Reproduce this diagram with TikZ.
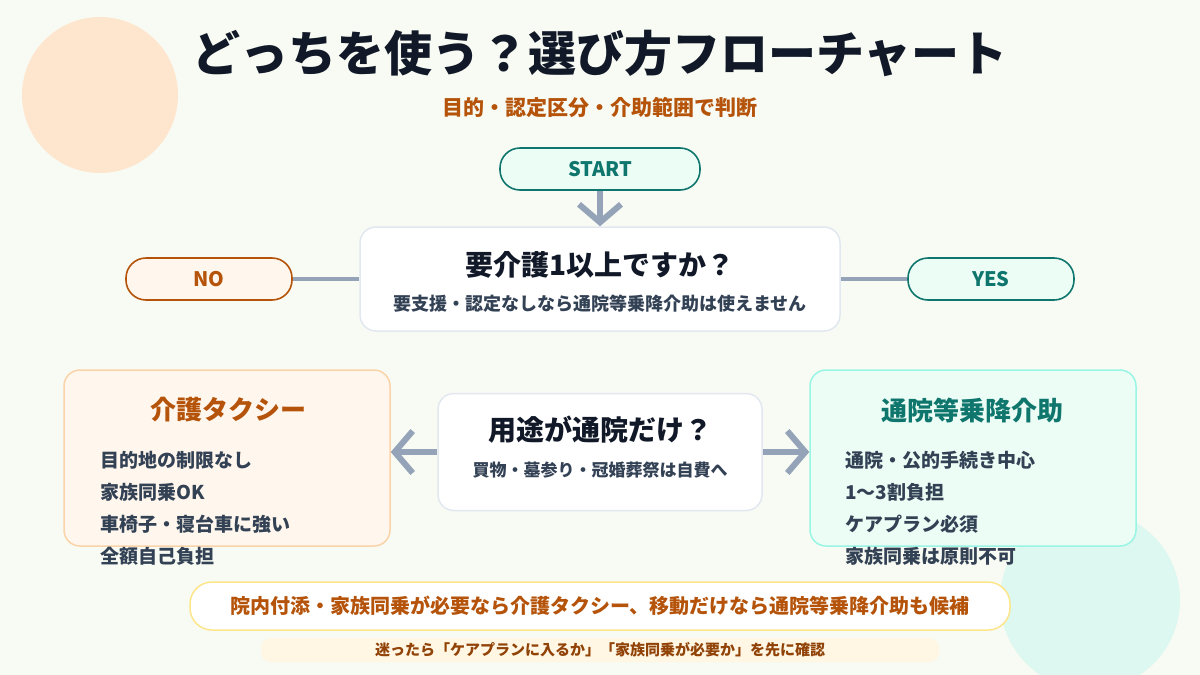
\documentclass[tikz,border=0pt]{standalone}
\usepackage{fontspec}
\setmainfont{Noto Sans CJK JP}
\usetikzlibrary{arrows.meta}
\definecolor{bg}{HTML}{F8FBF3}
\definecolor{peach}{HTML}{FDE6CD}
\definecolor{mint}{HTML}{DDF8F0}
\definecolor{ink}{HTML}{111827}
\definecolor{body}{HTML}{334155}
\definecolor{brown}{HTML}{B45309}
\definecolor{teal}{HTML}{0F766E}
\definecolor{tealbg}{HTML}{ECFDF5}
\definecolor{orbg}{HTML}{FFF7ED}
\definecolor{gline}{HTML}{94A3B8}
\definecolor{gborder}{HTML}{E2E8F0}
\definecolor{peachb}{HTML}{FBD3A8}
\definecolor{mintb}{HTML}{99F6E4}
\definecolor{yelb}{HTML}{FDE68A}
\definecolor{strip}{HTML}{FFF6E3}
\tikzset{
 pill/.style={draw,line width=1.6pt,rounded corners=20pt,font=\bfseries\fontsize{20}{22}\selectfont,inner sep=0pt},
 card/.style={rounded corners=16pt,line width=1.5pt,inner sep=0pt},
 conn/.style={gline,line width=3.5pt},
 arr/.style={gline,line width=6pt,-{Straight Barb[length=18pt,width=42pt,line width=6pt]}},
 lbl/.style={font=\bfseries\fontsize{19}{22}\selectfont,text=body,anchor=west,inner sep=0pt}
}
\begin{document}
\begin{tikzpicture}[x=1pt,y=-1pt]
\fill[bg] (0,0) rectangle (1200,675);
\useasboundingbox (0,0) rectangle (1200,675);
\fill[peach] (100,95) circle (78);
\fill[mint] (1090,600) circle (90);
\node (title) at (600,53) {\bfseries\fontsize{48}{52}\selectfont\color{ink}どっちを使う？選び方フローチャート};
\node (sub) at (600,107) {\bfseries\fontsize{21}{24}\selectfont\color{brown}目的・認定区分・介助範囲で判断};
\node[pill,fill=tealbg,draw=teal,text=teal,minimum width=200pt,minimum height=42pt] (start) at (600,169) {START};
\node[card,draw=gborder,fill=white,minimum width=480pt,minimum height=104pt] (q1) at (600,279) {};
\node at (600,265) {\bfseries\fontsize{28}{32}\selectfont\color{ink}要介護1以上ですか？};
\node at (600,304) {\bfseries\fontsize{18}{22}\selectfont\color{body}要支援・認定なしなら通院等乗降介助は使えません};
\node[pill,fill=orbg,draw=brown,text=brown,minimum width=166pt,minimum height=42pt] (no) at (209,279) {NO};
\node[pill,fill=tealbg,draw=teal,text=teal,minimum width=166pt,minimum height=42pt] (yes) at (991,279) {YES};
\draw[arr] (start.south) -- (q1.north);
\draw[conn] (no.east) -- (q1.west);
\draw[conn] (yes.west) -- (q1.east);
\node[card,draw=peachb,fill=orbg,minimum width=326pt,minimum height=176pt] (taxi) at (227,458) {};
\node at (228,410) {\bfseries\fontsize{26}{30}\selectfont\color{brown}介護タクシー};
\node[lbl] at (100,460) {目的地の制限なし};
\node[lbl] at (100,492) {家族同乗OK};
\node[lbl] at (100,524) {車椅子・寝台車に強い};
\node[lbl] at (100,556) {全額自己負担};
\node[card,draw=mintb,fill=tealbg,minimum width=326pt,minimum height=176pt] (kaijo) at (973,458) {};
\node at (972,410) {\bfseries\fontsize{26}{30}\selectfont\color{teal}通院等乗降介助};
\node[lbl] at (845,460) {通院・公的手続き中心};
\node[lbl] at (845,492) {1〜3割負担};
\node[lbl] at (845,524) {ケアプラン必須};
\node[lbl] at (845,556) {家族同乗は原則不可};
\node[card,draw=gborder,fill=white,minimum width=324pt,minimum height=117pt] (q2) at (600,452) {};
\node at (600,430) {\bfseries\fontsize{28}{32}\selectfont\color{ink}用途が通院だけ？};
\node at (600,470) {\bfseries\fontsize{17}{20}\selectfont\color{body}買物・墓参り・冠婚葬祭は自費へ};
\draw[arr] (q2.west) -- (q2.west -| taxi.east);
\draw[arr] (q2.east) -- (q2.east -| kaijo.west);
\node[draw=yelb,fill=white,line width=1.5pt,rounded corners=22pt,minimum width=820pt,minimum height=48pt] (note) at (600,606) {\bfseries\fontsize{20}{24}\selectfont\color{brown}院内付添・家族同乗が必要なら介護タクシー、移動だけなら通院等乗降介助も候補};
\node[fill=strip,rounded corners=10pt,minimum width=678pt,minimum height=24pt] (tip) at (600,650) {\bfseries\fontsize{15}{18}\selectfont\color{brown!80!black}迷ったら「ケアプランに入るか」「家族同乗が必要か」を先に確認};
\end{tikzpicture}
\end{document}
